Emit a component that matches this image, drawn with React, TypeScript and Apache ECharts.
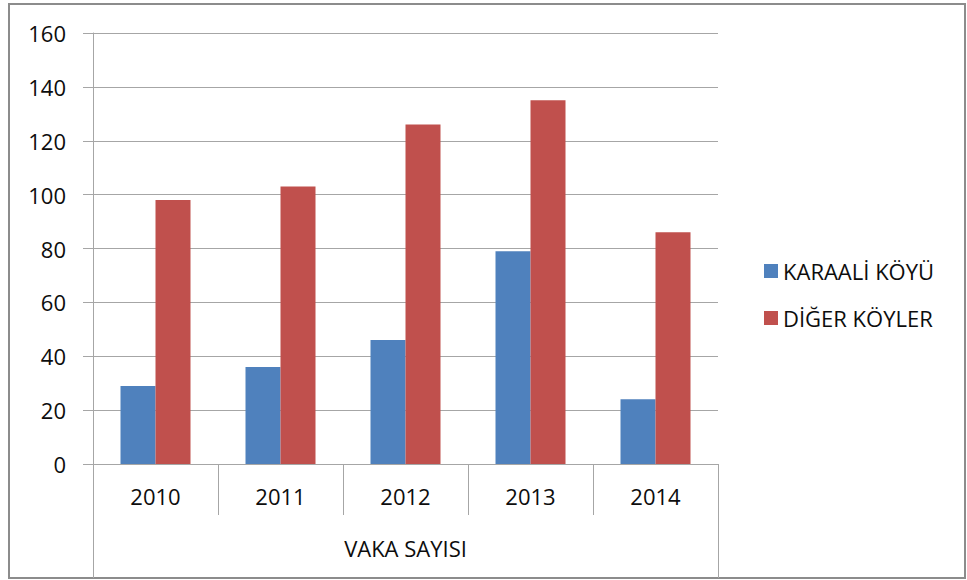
import React, { useEffect, useRef } from "react";
import * as echarts from "echarts";

const categories = ["2010", "2011", "2012", "2013", "2014"];
const groupLabel = ["VAKA SAYISI"];
const karaali = [29, 36, 46, 79, 24];
const diger = [98, 103, 126, 135, 86];
const seriesNames = ["KARAALİ KÖYÜ", "DİĞER KÖYLER"];

const FONT = "'Open Sans', sans-serif";
const GRID = "#a6a6a6";
const TEXT = "#0d0d0d";

export default function App() {
  const ref = useRef<HTMLDivElement>(null);
  useEffect(() => {
    const chart = echarts.init(ref.current!, null, { renderer: "svg" });
    chart.setOption({
      animation: false,
      textStyle: { fontFamily: FONT },
      grid: { left: 93, right: 249, top: 33, bottom: 116, containLabel: false },
      legend: {
        orient: "vertical",
        left: 759,
        top: 255,
        itemWidth: 14,
        itemHeight: 14,
        itemGap: 25,
        icon: "rect",
        textStyle: { fontFamily: FONT, fontSize: 22, color: TEXT, padding: [0, 0, 0, 0] },
        data: seriesNames,
      },
      xAxis: [
        {
          type: "category",
          data: categories,
          gridIndex: 0,
          position: "bottom",
          boundaryGap: true,
          axisLine: { show: true, lineStyle: { color: GRID, width: 1 } },
          axisTick: { show: true, length: 51, lineStyle: { color: GRID } },
          axisLabel: { margin: 21, fontSize: 22, color: TEXT, fontFamily: FONT },
        },
        {
          type: "category",
          data: groupLabel,
          gridIndex: 0,
          position: "bottom",
          offset: 51,
          boundaryGap: true,
          axisLine: { show: false },
          axisTick: { show: true, length: 63, lineStyle: { color: GRID } },
          axisLabel: { margin: 22, fontSize: 22, color: TEXT, fontFamily: FONT },
        },
      ],
      yAxis: {
        type: "value",
        min: 0,
        max: 160,
        interval: 20,
        axisLine: { show: true, lineStyle: { color: GRID } },
        axisTick: { show: true, length: 10, lineStyle: { color: GRID } },
        axisLabel: { margin: 27, fontSize: 22, color: TEXT, fontFamily: FONT },
        splitLine: { show: true, lineStyle: { color: GRID, width: 1 } },
      },
      series: [
        {
          name: seriesNames[0],
          type: "bar",
          data: karaali,
          barWidth: 35,
          barGap: "0%",
          itemStyle: { color: "#4f81bd" },
        },
        {
          name: seriesNames[1],
          type: "bar",
          data: diger,
          barWidth: 35,
          barGap: "0%",
          itemStyle: { color: "#c0504d" },
        },
      ],
      graphic: [
        {
          type: "rect",
          silent: true,
          shape: { x: 9, y: 4, width: 956, height: 574 },
          style: { fill: "none", stroke: "#8c8c8c", lineWidth: 2 },
        },
      ],
    });
    return () => chart.dispose();
  }, []);
  return (
    <div
      ref={ref}
      style={{ position: "fixed", left: 0, top: 0, width: 967, height: 580, background: "#fff" }}
    />
  );
}
